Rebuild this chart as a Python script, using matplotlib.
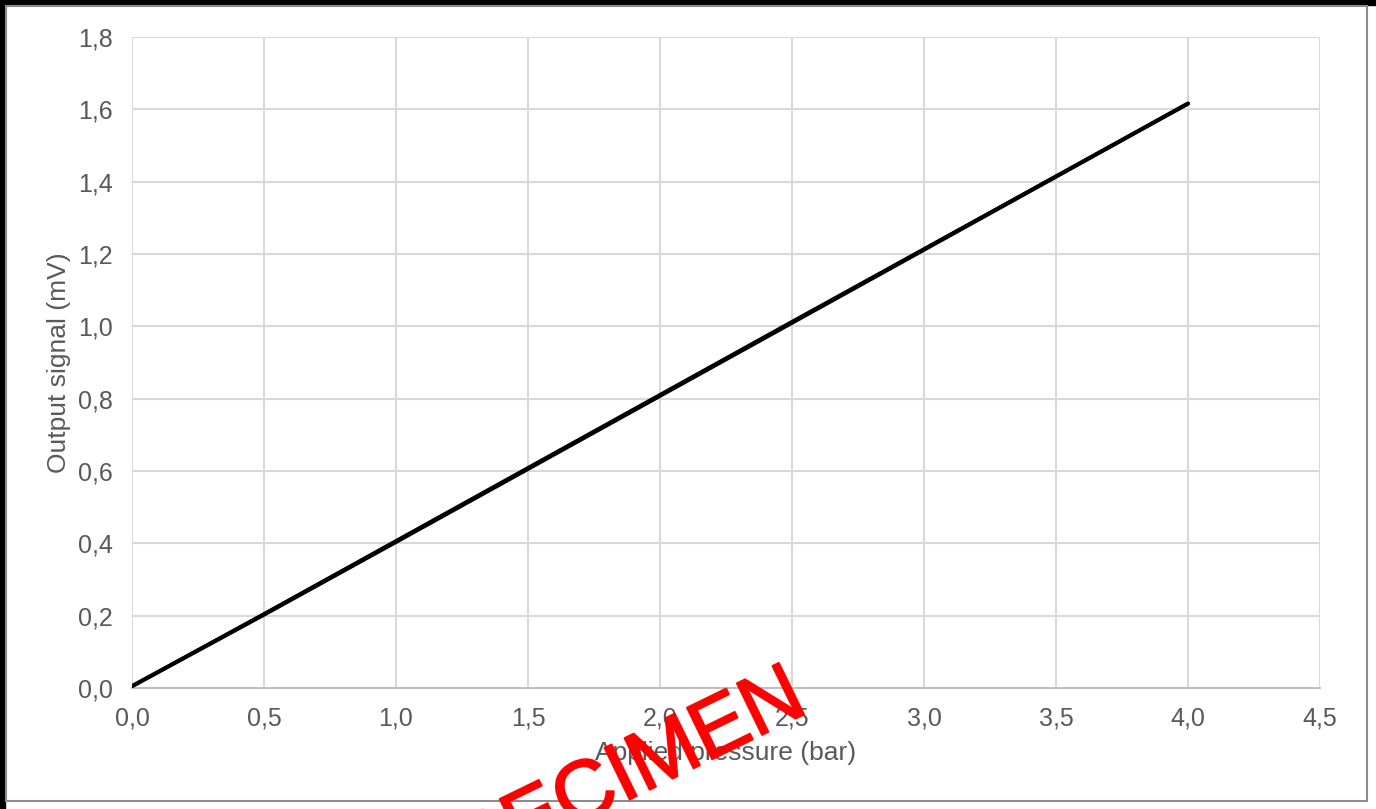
import matplotlib
matplotlib.use("Agg")
import matplotlib.pyplot as plt
import matplotlib.patheffects as pe
from matplotlib.patches import Rectangle

# Data
pressure = [0.0, 0.5, 1.0, 1.5, 2.0, 2.5, 3.0, 3.5, 4.0]
signal_up = [0.005, 0.203, 0.404, 0.606, 0.808, 1.010, 1.212, 1.414, 1.616]
signal_down = [0.005, 0.205, 0.407, 0.609, 0.811, 1.013, 1.214, 1.415, 1.616]
xticks = [0.0, 0.5, 1.0, 1.5, 2.0, 2.5, 3.0, 3.5, 4.0, 4.5]
yticks = [0.0, 0.2, 0.4, 0.6, 0.8, 1.0, 1.2, 1.4, 1.6, 1.8]

plt.rcParams['font.family'] = ['Liberation Sans', 'DejaVu Sans']
W, H = 1376, 809
fig = plt.figure(figsize=(W / 100, H / 100), dpi=100, facecolor='white')

# outer frame: black strips left/top, thin gray box
fig.patches.append(Rectangle((0, 0), 5 / W, 1, transform=fig.transFigure, color='black', zorder=0))
fig.patches.append(Rectangle((0, 1 - 5 / H), 1, 5 / H, transform=fig.transFigure, color='black', zorder=0))
fig.patches.append(Rectangle((6 / W, 1 - 801 / H), 1361 / W, 795 / H, transform=fig.transFigure,
                             fill=False, edgecolor='#8c8c8c', linewidth=1.5, zorder=0))

ax = fig.add_axes([132 / W, 1 - 688 / H, (1320 - 132) / W, (688 - 37) / H])
ax.plot(pressure, signal_up, color='black', linewidth=3, solid_capstyle='round', zorder=3)
ax.plot(pressure, signal_down, color='black', linewidth=2.5, solid_capstyle='round', zorder=3)

ax.set_xlim(0, 4.5)
ax.set_ylim(0, 1.8)
ax.set_xticks(xticks)
ax.set_yticks(yticks)
ax.set_xticklabels([f"{v:.1f}".replace('.', ',') for v in xticks])
ax.set_yticklabels([f"{v:.1f}".replace('.', ',') for v in yticks])
ax.grid(True, color='#d9d9d9', linewidth=1.5, zorder=0)
ax.set_axisbelow(True)
for s in ['top', 'right', 'left']:
    ax.spines[s].set_visible(False)
ax.spines['bottom'].set_color('#bfbfbf')
ax.spines['bottom'].set_linewidth(1.5)
ax.tick_params(axis='both', length=0, labelsize=18, colors='#595959')
ax.tick_params(axis='x', pad=13)
ax.tick_params(axis='y', pad=14)

ax.set_xlabel('Applied pressure (bar)', fontsize=19, color='#595959', labelpad=8)
ax.set_ylabel('Output signal (mV)', fontsize=19, color='#595959', labelpad=5)

# watermark
fig.text(605 / W, 1 - 787 / H, 'SPECIMEN', color='red', fontsize=60, rotation=26,
         ha='center', va='center', alpha=0.95, zorder=10,
         path_effects=[pe.withStroke(linewidth=1.5, foreground='red')])

fig.savefig('out.png', dpi=100, facecolor='white')
